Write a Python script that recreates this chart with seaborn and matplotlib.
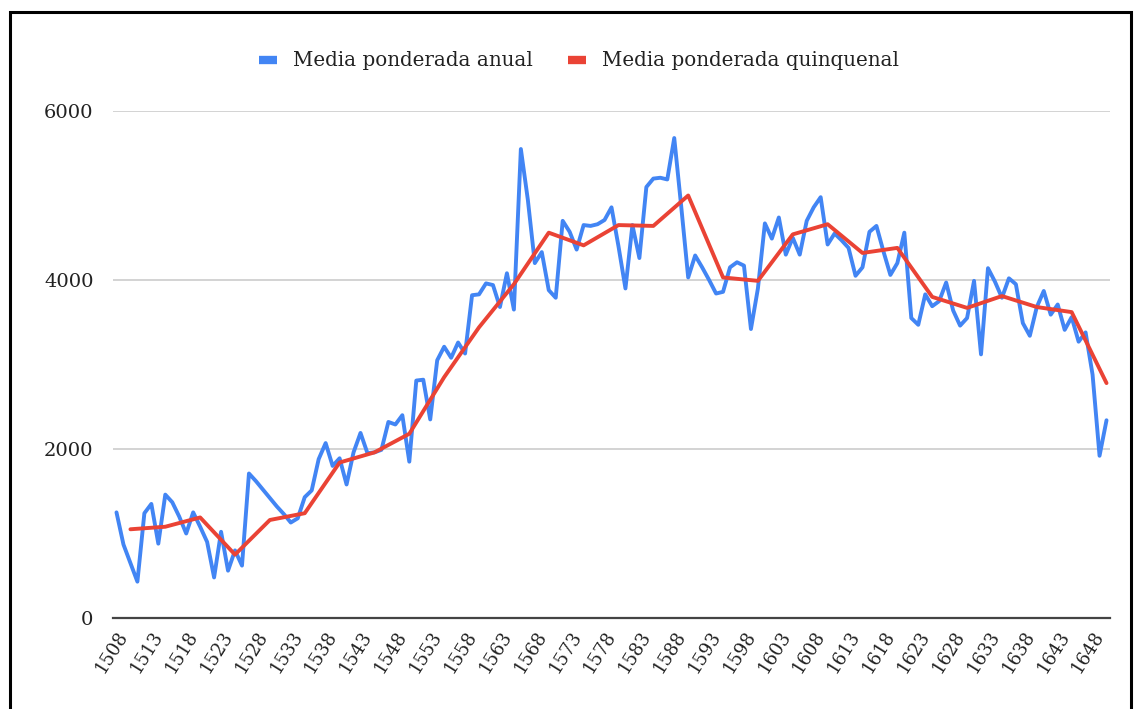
import matplotlib
matplotlib.use("Agg")
import matplotlib.pyplot as plt
from matplotlib.patches import Rectangle
from matplotlib.lines import Line2D
import seaborn as sns
import pandas as pd

# Annual weighted mean, 1508-1650
years = list(range(1508, 1651))
anual = [
    1250, 870, 650, 430, 1240, 1350, 880, 1460, 1370, 1200,    # 1508-1517
    1000, 1250, 1080, 900, 480, 1020, 560, 800, 620, 1710,     # 1518-1527
    1620, 1520, 1420, 1320, 1230, 1130, 1180, 1430, 1510, 1880,  # 1528-1537
    2070, 1800, 1890, 1580, 1960, 2190, 1950, 1960, 1990, 2320,  # 1538-1547
    2290, 2400, 1850, 2810, 2820, 2350, 3050, 3210, 3080, 3260,  # 1548-1557
    3130, 3820, 3830, 3960, 3940, 3680, 4080, 3650, 5550, 4950,  # 1558-1567
    4200, 4330, 3880, 3790, 4700, 4570, 4360, 4650, 4640, 4660,  # 1568-1577
    4710, 4860, 4400, 3900, 4650, 4260, 5100, 5200, 5210, 5190,  # 1578-1587
    5680, 4870, 4030, 4290, 4150, 4000, 3840, 3860, 4150, 4210,  # 1588-1597
    4170, 3420, 3900, 4670, 4490, 4740, 4300, 4500, 4300, 4700,  # 1598-1607
    4860, 4980, 4420, 4550, 4470, 4380, 4050, 4150, 4570, 4640,  # 1608-1617
    4340, 4060, 4200, 4560, 3550, 3470, 3830, 3690, 3750, 3970,  # 1618-1627
    3640, 3460, 3550, 3990, 3120, 4140, 3980, 3790, 4020, 3950,  # 1628-1637
    3490, 3340, 3680, 3870, 3590, 3710, 3410, 3560, 3270, 3380,  # 1638-1647
    2880, 1920, 2340,                                            # 1648-1650
]

# Five-year weighted mean, centred on 1510, 1515, ... 1650
years_q = list(range(1510, 1651, 5))
quinquenal = [
    1050, 1080, 1190, 750, 1160, 1240, 1840, 1960, 2180, 2850,
    3440, 3950, 4560, 4410, 4650, 4640, 5000, 4030, 3990, 4540,
    4660, 4320, 4380, 3800, 3670, 3810, 3680, 3620, 2780,
]

tick_years = list(range(1508, 1649, 5))
y_ticks = [0, 2000, 4000, 6000]

label_a = "Media ponderada anual"
label_q = "Media ponderada quinquenal"
blue = "#4285F4"
red = "#EA4335"

df_a = pd.DataFrame({"year": years, "value": anual})
df_q = pd.DataFrame({"year": years_q, "value": quinquenal})

sns.set_theme(style="white")
plt.rcParams["font.family"] = ["DejaVu Serif"]

fig = plt.figure(figsize=(11.34, 7.09), dpi=100)
ax = fig.add_axes([113 / 1134, 1 - 618 / 709, (1110 - 113) / 1134, (618 - 111) / 709])

sns.lineplot(data=df_a, x="year", y="value", ax=ax, color=blue, linewidth=2.8,
             label=label_a)
sns.lineplot(data=df_q, x="year", y="value", ax=ax, color=red, linewidth=2.8,
             label=label_q)

ax.set_xlim(1507.5, 1650.5)
ax.set_ylim(0, 6000)
ax.set_yticks(y_ticks)
ax.set_yticklabels([str(v) for v in y_ticks], fontsize=14, color="#222222")
ax.set_xticks(tick_years)
ax.set_xticklabels([str(y) for y in tick_years], rotation=58, ha="right",
                   rotation_mode="anchor", fontsize=13, color="#222222")
ax.tick_params(axis="both", length=0)
ax.tick_params(axis="y", pad=14)
ax.tick_params(axis="x", pad=7)
ax.set_xlabel("")
ax.set_ylabel("")

for v in y_ticks[1:]:
    ax.axhline(v, color="#cccccc", linewidth=1.2, zorder=0)
for side in ["left", "right", "top"]:
    ax.spines[side].set_visible(False)
ax.spines["bottom"].set_color("#444444")
ax.spines["bottom"].set_linewidth(1.6)

handles = [Line2D([], [], color=blue, linewidth=6, solid_capstyle="butt"),
           Line2D([], [], color=red, linewidth=6, solid_capstyle="butt")]
ax.legend(handles=handles, labels=[label_a, label_q], loc="center",
          bbox_to_anchor=(579 / 1134, 1 - 61 / 709), bbox_transform=fig.transFigure,
          ncol=2, frameon=False, fontsize=14.3, handlelength=0.9,
          handletextpad=0.8, columnspacing=1.8, labelcolor="#222222")

# outer frame
fig.patches.append(Rectangle((10 / 1134, -0.05), (1131 - 10) / 1134, 1.05 - 12 / 709,
                             transform=fig.transFigure, fill=False,
                             edgecolor="black", linewidth=2.2))

fig.savefig("out.png", dpi=100, facecolor="white")
